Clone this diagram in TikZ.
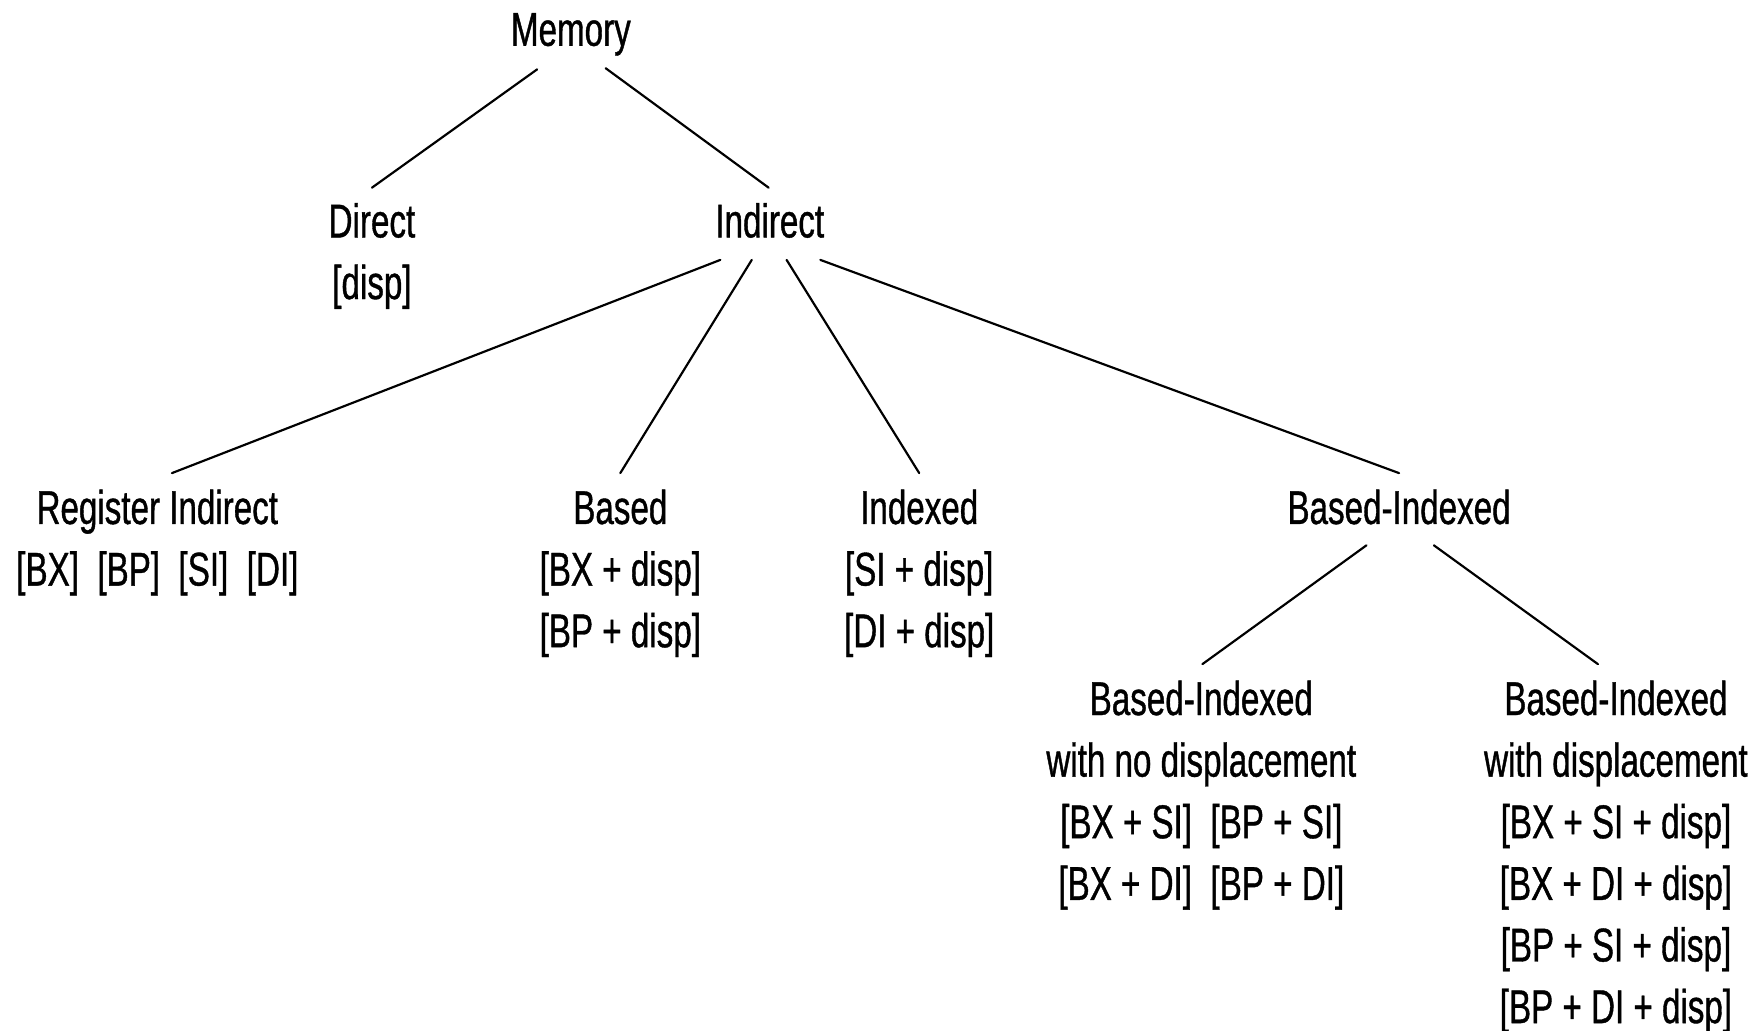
\documentclass[tikz,border=0pt]{standalone}
\usepackage{fontspec}
\setmainfont[FakeStretch=0.70, FakeBold=0.8]{Liberation Sans}
\usetikzlibrary{calc}
\tikzset{
  modeLbl/.style={font=\fontsize{12}{15.6}\selectfont, align=center, inner sep=0pt, anchor=north},
  branch/.style={draw=black, line width=0.55pt, line cap=round},
}

\begin{document}
\begin{tikzpicture}
  \useasboundingbox (0,0) rectangle (15.68,-9.17);

  % Top levels
  \node[modeLbl] (mem) at (5.08,-0.11) {Memory};
  \node[modeLbl] (dir) at (3.31,-1.80) {Direct\\{}[disp]};
  \node[modeLbl] (ind) at (6.85,-1.80) {Indirect};

  % Indirect modes
  \node[modeLbl] (reg) at (1.40,-4.35) {Register Indirect\\{}[BX]\ \ [BP]\ \ [SI]\ \ [DI]};
  \node[modeLbl] (bas) at (5.52,-4.35) {Based\\{}[BX + disp]\\{}[BP + disp]};
  \node[modeLbl] (idx) at (8.18,-4.35) {Indexed\\{}[SI + disp]\\{}[DI + disp]};
  \node[modeLbl] (bix) at (12.45,-4.35) {Based-Indexed};

  % Based-Indexed variants
  \node[modeLbl] (nod) at (10.69,-6.05) {Based-Indexed\\with no displacement\\{}[BX + SI]\ \ [BP + SI]\\{}[BX + DI]\ \ [BP + DI]};
  \node[modeLbl] (wid) at (14.38,-6.05) {Based-Indexed\\with displacement\\{}[BX + SI + disp]\\{}[BX + DI + disp]\\{}[BP + SI + disp]\\{}[BP + DI + disp]};

  % Branches
  \draw[branch] ($(mem.base)+(-0.30,-0.21)$) -- ($(dir.north)+(0,0.13)$);
  \draw[branch] ($(mem.base)+(0.31,-0.20)$) -- ($(ind.north)+(-0.01,0.13)$);

  \draw[branch] ($(ind.base)+(-0.44,-0.20)$) -- ($(reg.north)+(0.13,0.14)$);
  \draw[branch] ($(ind.base)+(-0.16,-0.20)$) -- ($(bas.north)+(0,0.14)$);
  \draw[branch] ($(ind.base)+(0.15,-0.20)$) -- ($(idx.north)+(0,0.14)$);
  \draw[branch] ($(ind.base)+(0.45,-0.20)$) -- ($(bix.north)+(0,0.14)$);

  \draw[branch] ($(bix.base)+(-0.29,-0.19)$) -- ($(nod.north)+(0.01,0.14)$);
  \draw[branch] ($(bix.base)+(0.31,-0.19)$) -- ($(wid.north)+(-0.16,0.14)$);
\end{tikzpicture}
\end{document}
